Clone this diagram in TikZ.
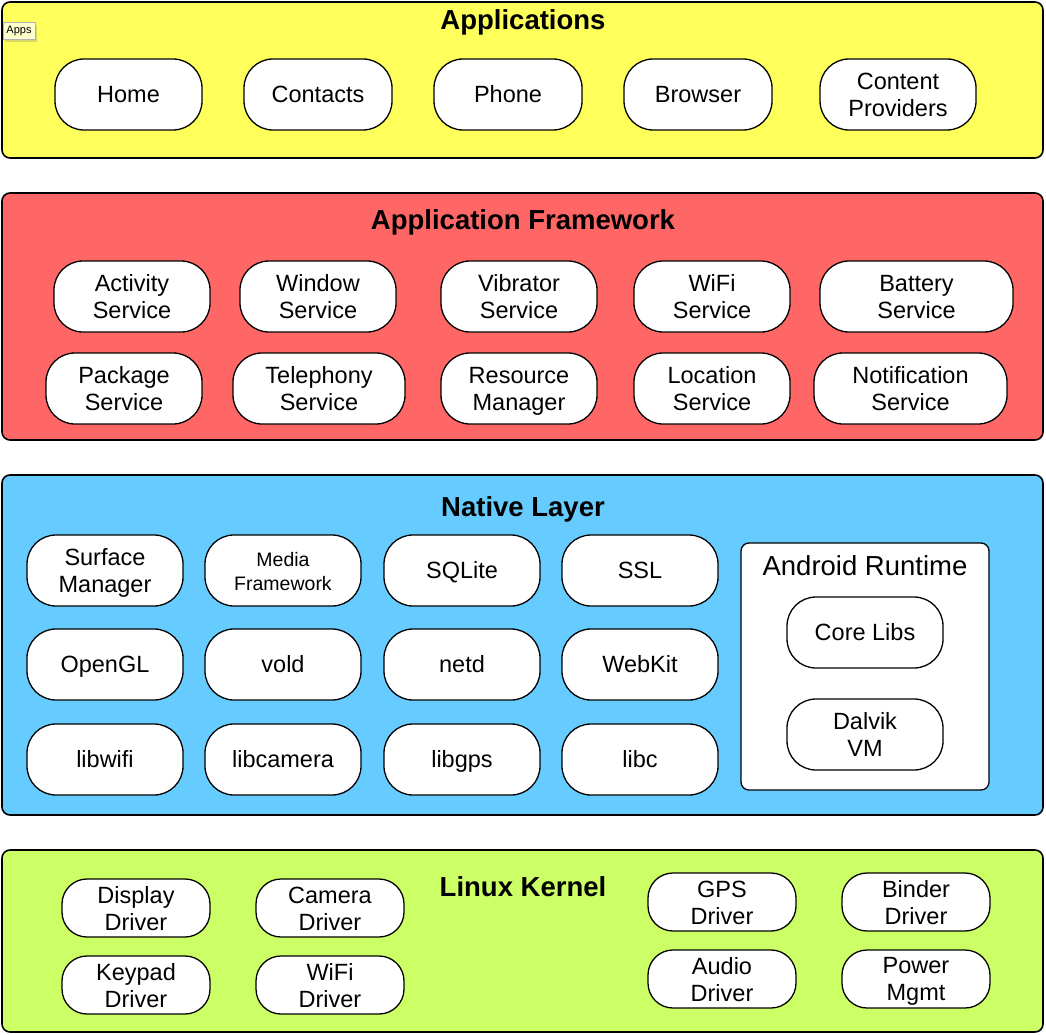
\documentclass[tikz,border=0pt]{standalone}
\usepackage{fontspec}
\setmainfont{Liberation Sans}
\usepackage{tikz}
\usepackage{xcolor}
\usetikzlibrary{positioning, shadows}

\definecolor{appyellow}{HTML}{FFFF5C}
\definecolor{fwred}{HTML}{FF6666}
\definecolor{natblue}{HTML}{66CCFF}
\definecolor{kernelgreen}{HTML}{CCFF66}
\definecolor{tipyellow}{HTML}{FFFFCC}
\newcommand{\pilltop}{20pt}

\begin{document}
\begin{tikzpicture}[x=1pt, y=-1pt,
    layer/.style={draw, line width=1.6pt, rounded corners=8pt, inner sep=0pt},
    title/.style={font=\fontsize{27.5}{31}\selectfont\bfseries},
    pill/.style={draw, fill=white, line width=1.3pt, rounded corners=29pt, inner sep=0pt,
        minimum width=156pt, minimum height=71pt, align=center,
        font=\fontsize{23.5}{27}\selectfont,
        execute at begin node={\rule{0pt}{\pilltop}},
        execute at end node={\rule[-3.2pt]{0pt}{3.2pt}}},
    pilltwo/.style={execute at begin node={\def\pilltop{#1}}, pill},
    pilltwo/.default=48pt,
    kpill/.style={pilltwo, rounded corners=25pt, minimum width=148pt, minimum height=58pt}]
    \useasboundingbox (0,0) rectangle (1046,1035);

    % Applications
    \node[layer, fill=appyellow, minimum width=1041pt, minimum height=156pt] (apps) at (522.5,80) {};
    \node[title] (appst) at (523,22) {Applications};
    \node[draw=black!30, fill=tipyellow, inner sep=3.5pt, font=\fontsize{11}{13}\selectfont,
        drop shadow={shadow xshift=2pt, shadow yshift=-3pt, opacity=0.3}] (tip) at (19,31) {Apps};
    \node[pill, minimum width=147pt] (home) at (128.5,94.5) {Home};
    \node[pill, minimum width=148pt] (contacts) at (318,94.5) {Contacts};
    \node[pill, minimum width=148pt] (phone) at (508,94.5) {Phone};
    \node[pill, minimum width=148pt] (browser) at (698,94.5) {Browser};
    \node[pilltwo] (providers) at (898,94.5) {Content\\Providers};

    % Application Framework
    \node[layer, fill=fwred, minimum width=1041pt, minimum height=247pt] (fw) at (522.5,316.5) {};
    \node[title] (fwt) at (523,222) {Application Framework};
    \node[pilltwo] (activity) at (132,296.5) {Activity\\Service};
    \node[pilltwo] (window) at (318,296.5) {Window\\Service};
    \node[pilltwo] (vibrator) at (519,296.5) {Vibrator\\Service};
    \node[pilltwo] (wifisvc) at (712,296.5) {WiFi\\Service};
    \node[pilltwo, minimum width=193pt] (battery) at (916.5,296.5) {Battery\\Service};
    \node[pilltwo] (package) at (124,388.5) {Package\\Service};
    \node[pilltwo, minimum width=172pt] (telephony) at (319,388.5) {Telephony\\Service};
    \node[pilltwo] (resource) at (519,388.5) {Resource\\Manager};
    \node[pilltwo] (location) at (712,388.5) {Location\\Service};
    \node[pilltwo, minimum width=193pt] (notification) at (910.5,388.5) {Notification\\Service};

    % Native Layer
    \node[layer, fill=natblue, minimum width=1041pt, minimum height=340pt] (native) at (522.5,645) {};
    \node[title] (nativet) at (523,509) {Native Layer};
    \node[pilltwo] (surface) at (105,570.5) {Surface\\Manager};
    \node[pilltwo=44pt, font=\fontsize{19.5}{24}\selectfont] (media) at (283,570.5) {Media\\Framework};
    \node[pill] (sqlite) at (462,570.5) {SQLite};
    \node[pill] (ssl) at (640,570.5) {SSL};
    \node[pill] (opengl) at (105,664.5) {OpenGL};
    \node[pill] (vold) at (283,664.5) {vold};
    \node[pill] (netd) at (462,664.5) {netd};
    \node[pill] (webkit) at (640,664.5) {WebKit};
    \node[pill] (libwifi) at (105,759.5) {libwifi};
    \node[pill] (libcamera) at (283,759.5) {libcamera};
    \node[pill] (libgps) at (462,759.5) {libgps};
    \node[pill] (libc) at (640,759.5) {libc};

    % Android Runtime
    \node[draw, fill=white, line width=1.3pt, rounded corners=8pt, inner sep=0pt,
        minimum width=248pt, minimum height=247pt] (runtime) at (865,666.5) {};
    \node[font=\fontsize{27.5}{31}\selectfont] (runtimet) at (865,566) {Android Runtime};
    \node[pill] (corelibs) at (865,632.5) {Core Libs};
    \node[pilltwo] (dalvik) at (865,734.5) {Dalvik\\VM};

    % Linux Kernel
    \node[layer, fill=kernelgreen, minimum width=1041pt, minimum height=182pt] (kernel) at (522.5,941) {};
    \node[title] (kernelt) at (523,887) {Linux Kernel};
    \node[kpill] (display) at (136,908) {Display\\Driver};
    \node[kpill] (camera) at (330,908) {Camera\\Driver};
    \node[kpill] (keypad) at (136,985) {Keypad\\Driver};
    \node[kpill] (wifidrv) at (330,985) {WiFi\\Driver};
    \node[kpill] (gps) at (722,902) {GPS\\Driver};
    \node[kpill] (binder) at (916,902) {Binder\\Driver};
    \node[kpill] (audio) at (722,979) {Audio\\Driver};
    \node[kpill] (power) at (916,979) {Power\\Mgmt};
\end{tikzpicture}
\end{document}
